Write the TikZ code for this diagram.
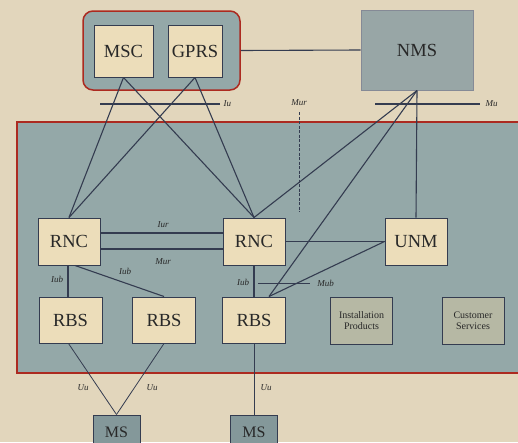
\documentclass[tikz,border=0pt]{standalone}
\usepackage{fontspec}
\setmainfont{Liberation Serif}
\usepackage{xcolor}
\definecolor{paper}{RGB}{226,214,188}
\definecolor{panel}{RGB}{148,168,168}
\definecolor{boxfill}{RGB}{236,221,186}
\definecolor{nmsfill}{RGB}{152,166,166}
\definecolor{msfill}{RGB}{132,152,154}
\definecolor{prodfill}{RGB}{182,184,164}
\definecolor{framered}{RGB}{172,42,32}
\definecolor{wire}{RGB}{52,60,80}
\definecolor{ink}{RGB}{40,40,40}
\usetikzlibrary{positioning}

\begin{document}
\begin{tikzpicture}[x=1pt,y=-1pt,
  box/.style={rectangle, draw=wire, line width=1pt, fill=boxfill,
              minimum width=62pt, minimum height=47pt, inner sep=0pt,
              text=ink, font=\fontsize{18.5}{19}\selectfont},
  prodbox/.style={box, fill=prodfill, align=center,
              font=\fontsize{10}{11}\selectfont},
  msbox/.style={box, fill=msfill, minimum width=47pt, minimum height=34pt,
              font=\fontsize{16}{17}\selectfont},
  iflabel/.style={font=\fontsize{9}{9}\selectfont\itshape, text=ink, inner sep=1pt},
  wireline/.style={draw=wire, line width=1.1pt}
]
  \fill[paper] (0,0) rectangle (518,442);
  \useasboundingbox (0,0) rectangle (518,442);
  % radio network panel
  \draw[framered, fill=panel, line width=2pt] (17,122) rectangle (530,373);
  % core network
  \node[draw=framered, fill=panel, line width=1.5pt, rounded corners=10pt,
        minimum width=157pt, minimum height=79pt] (core) at (161.5,50.5) {};
  \node[box, minimum width=59pt, minimum height=52pt] (msc) at (123.5,51) {MSC};
  \node[box, minimum width=54pt, minimum height=52pt] (gprs) at (195,51) {GPRS};
  \node[box, fill=nmsfill, draw=wire!60, minimum width=112pt, minimum height=80pt] (nms) at (417,50) {NMS};
  % nodes in the panel
  \node[box] (rnc1) at (69,241.5) {RNC};
  \node[box] (rnc2) at (254,241.5) {RNC};
  \node[box] (unm) at (416,241.5) {UNM};
  \node[box, minimum width=63pt, minimum height=46pt] (rbs1) at (70.5,320) {RBS};
  \node[box, minimum width=63pt, minimum height=46pt] (rbs2) at (164,320) {RBS};
  \node[box, minimum width=63pt, minimum height=46pt] (rbs3) at (254,320) {RBS};
  \node[prodbox] (inst) at (361.5,320.5) {Installation\\Products};
  \node[prodbox] (cust) at (473,320.5) {Customer\\Services};
  % mobile stations
  \node[msbox] (ms1) at (116.5,432) {MS};
  \node[msbox] (ms2) at (254,432) {MS};
  % connections
  \draw[wireline] (core.east) -- (nms.west);
  \draw[wireline] (msc.south) -- (rnc1.north);
  \draw[wireline] (msc.south) -- (rnc2.north);
  \draw[wireline] (gprs.south) -- (rnc1.north);
  \draw[wireline] (gprs.south) -- (rnc2.north);
  \draw[wireline] (nms.south) -- (rnc2.north);
  \draw[wireline] (nms.south) -- ([xshift=15pt]rbs3.north);
  \draw[wireline] (nms.south) -- (unm.north);
  \draw[wireline] (unm.west) -- ([xshift=15pt]rbs3.north);
  \draw[wireline] ([yshift=8.5pt]rnc1.east) -- ([yshift=8.5pt]rnc2.west);
  \draw[wireline] ([yshift=-7.5pt]rnc1.east) -- ([yshift=-7.5pt]rnc2.west);
  \draw[wireline] (rnc2.east) -- (unm.west);
  \draw[wireline] ([xshift=-1pt]rnc1.south) -- ([xshift=-1pt]rnc1.south |- rbs1.north);
  \draw[wireline] ([xshift=6pt]rnc1.south) -- (rbs2.north);
  \draw[wireline] (rnc2.south) -- (rbs3.north);
  \draw[wireline, line width=0.8pt] ([xshift=-2pt]rbs1.south) -- (ms1.north);
  \draw[wireline, line width=0.8pt] (rbs2.south) -- (ms1.north);
  \draw[wireline, line width=0.8pt] (rbs3.south) -- (ms2.north);
  % interface markers
  \coordinate (iuA) at (100,104);
  \coordinate (iuB) at (220,104);
  \draw[wireline] (iuA) -- (iuB) node[iflabel, right=2pt] {Iu};
  \coordinate (muA) at (375,104);
  \coordinate (muB) at (480,104);
  \draw[wireline] (muA) -- (muB) node[iflabel, right=4pt] {Mu};
  \coordinate (mubA) at (258,283);
  \coordinate (mubB) at (310,283);
  \draw[wireline, line width=0.8pt] (mubA) -- (mubB) node[iflabel, right=6pt] {Mub};
  \coordinate (murA) at (299,112);
  \coordinate (murB) at (299,212);
  \draw[wireline, line width=0.8pt, dash pattern=on 3pt off 1.5pt] (murA) -- (murB);
  \node[iflabel, above=5pt of murA] {Mur};
  % interface labels
  \node[iflabel] at (163,225) {Iur};
  \node[iflabel] at (163,262) {Mur};
  \node[iflabel] at (57,279) {Iub};
  \node[iflabel] at (125,271) {Iub};
  \node[iflabel] at (243,282) {Iub};
  \node[iflabel] at (83,388) {Uu};
  \node[iflabel] at (152,388) {Uu};
  \node[iflabel] at (266,388) {Uu};
\end{tikzpicture}
\end{document}
